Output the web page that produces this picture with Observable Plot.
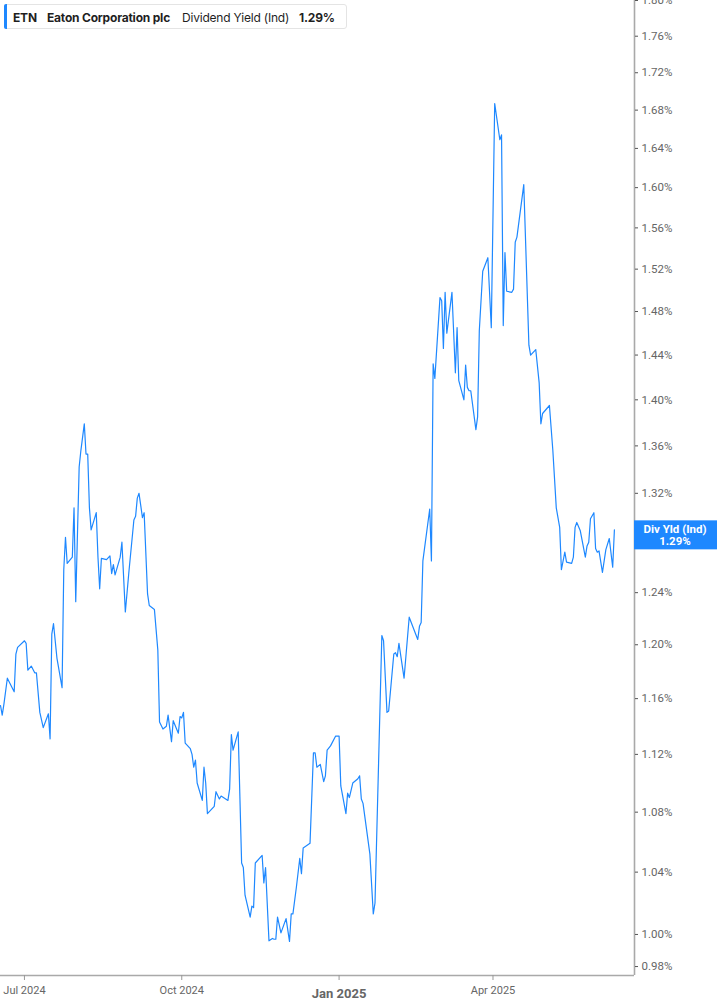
<!DOCTYPE html>
<html>
<head>
<meta charset="utf-8">
<script src="https://cdn.jsdelivr.net/npm/d3@7"></script>
<script src="https://cdn.jsdelivr.net/npm/@observablehq/plot@0.6"></script>
<style>
  body { margin: 0; background: #fff; }
  #wrap { position: relative; width: 717px; height: 1005px; overflow: hidden; background: #fff; }
  #legend { position: absolute; left: 4px; top: 4px; width: 343px; height: 25px; border: 1px solid #e4e4e4; border-radius: 3px; background: #fff; font-family: Inter, Roboto, sans-serif; font-size: 12px; color: #1f1f1f; box-sizing: border-box; }
  #legend .bar { position: absolute; left: -1px; top: -1px; width: 3px; height: 25px; background: #1e88ff; border-radius: 2px 0 0 2px; }
  #legend span { position: absolute; top: 5px; white-space: nowrap; letter-spacing: -0.2px; }
  #legend .b { font-weight: 700; }
</style>
</head>
<body>
<div id="wrap">
  <div id="chart"></div>
  <div id="legend">
    <div class="bar"></div>
    <span class="b" style="left:8px">ETN</span>
    <span class="b" style="left:42px">Eaton Corporation plc</span>
    <span style="left:177px">Dividend Yield (Ind)</span>
    <span class="b" style="left:294px">1.29%</span>
  </div>
</div>
<script>
const dates = [
 "2024-06-17","2024-06-18","2024-06-19","2024-06-21","2024-06-25","2024-06-26","2024-06-27","2024-07-01","2024-07-02","2024-07-03",
 "2024-07-05","2024-07-07","2024-07-08","2024-07-10","2024-07-12","2024-07-15","2024-07-16","2024-07-17","2024-07-18","2024-07-20",
 "2024-07-23","2024-07-24","2024-07-25","2024-07-26","2024-07-29","2024-07-30","2024-07-31","2024-08-02","2024-08-03","2024-08-05",
 "2024-08-06","2024-08-07","2024-08-08","2024-08-09","2024-08-12","2024-08-13","2024-08-14","2024-08-15","2024-08-18","2024-08-20",
 "2024-08-21","2024-08-22","2024-08-23","2024-08-26","2024-08-27","2024-08-29","2024-08-31","2024-09-03","2024-09-04","2024-09-05",
 "2024-09-06","2024-09-07","2024-09-08","2024-09-09","2024-09-11","2024-09-12","2024-09-15","2024-09-17","2024-09-18","2024-09-20",
 "2024-09-22","2024-09-23","2024-09-25","2024-09-26","2024-09-29","2024-09-30","2024-10-01","2024-10-02","2024-10-03","2024-10-06",
 "2024-10-07","2024-10-08","2024-10-09","2024-10-10","2024-10-13","2024-10-14","2024-10-15","2024-10-16","2024-10-20","2024-10-21",
 "2024-10-23","2024-10-24","2024-10-28","2024-10-29","2024-10-30","2024-10-31","2024-11-03","2024-11-05","2024-11-06","2024-11-07",
 "2024-11-10","2024-11-11","2024-11-12","2024-11-13","2024-11-17","2024-11-18","2024-11-19","2024-11-21","2024-11-23","2024-11-24",
 "2024-11-25","2024-11-26","2024-11-28","2024-12-01","2024-12-03","2024-12-04","2024-12-05","2024-12-07","2024-12-09","2024-12-10",
 "2024-12-11","2024-12-15","2024-12-17","2024-12-18","2024-12-19","2024-12-21","2024-12-23","2024-12-24","2024-12-25","2024-12-27",
 "2024-12-30","2025-01-01","2025-01-02","2025-01-05","2025-01-06","2025-01-07","2025-01-09","2025-01-12","2025-01-13","2025-01-14",
 "2025-01-15","2025-01-19","2025-01-21","2025-01-22","2025-01-26","2025-01-27","2025-01-29","2025-01-30","2025-02-02","2025-02-03",
 "2025-02-04","2025-02-05","2025-02-08","2025-02-11","2025-02-16","2025-02-17","2025-02-18","2025-02-19","2025-02-23","2025-02-24",
 "2025-02-25","2025-02-26","2025-03-01","2025-03-02","2025-03-03","2025-03-04","2025-03-05","2025-03-08","2025-03-10","2025-03-11",
 "2025-03-12","2025-03-15","2025-03-16","2025-03-17","2025-03-18","2025-03-19","2025-03-22","2025-03-23","2025-03-24","2025-03-26",
 "2025-03-29","2025-03-31","2025-04-02","2025-04-05","2025-04-06","2025-04-07","2025-04-08","2025-04-09","2025-04-12","2025-04-13",
 "2025-04-14","2025-04-15","2025-04-19","2025-04-22","2025-04-23","2025-04-26","2025-04-28","2025-04-29","2025-04-30","2025-05-04",
 "2025-05-06","2025-05-08","2025-05-10","2025-05-11","2025-05-13","2025-05-14","2025-05-17","2025-05-18","2025-05-19","2025-05-20",
 "2025-05-22","2025-05-25","2025-05-26","2025-05-27","2025-05-28","2025-05-30","2025-05-31","2025-06-01","2025-06-02","2025-06-04",
 "2025-06-06","2025-06-08","2025-06-10","2025-06-11"
];
const yields = [
 1.155,1.148,1.156,1.175,1.165,1.193,1.198,1.203,1.201,1.181,
 1.184,1.179,1.179,1.150,1.139,1.149,1.131,1.208,1.216,1.190,
 1.168,1.258,1.284,1.263,1.268,1.308,1.233,1.342,1.356,1.379,
 1.353,1.353,1.308,1.290,1.304,1.268,1.243,1.267,1.266,1.269,
 1.255,1.262,1.254,1.268,1.280,1.225,1.255,1.298,1.301,1.316,
 1.320,1.310,1.300,1.304,1.239,1.230,1.227,1.196,1.143,1.138,
 1.140,1.148,1.129,1.144,1.135,1.147,1.146,1.150,1.128,1.124,
 1.120,1.111,1.116,1.100,1.088,1.111,1.100,1.079,1.084,1.094,
 1.089,1.091,1.088,1.096,1.134,1.123,1.136,1.046,1.043,1.025,
 1.011,1.018,1.017,1.046,1.051,1.033,1.043,0.996,0.9975,0.997,
 0.997,1.011,1.001,1.010,0.9956,1.013,1.013,1.030,1.049,1.039,
 1.056,1.059,1.121,1.121,1.111,1.113,1.101,1.105,1.123,1.126,
 1.133,1.133,1.098,1.079,1.093,1.090,1.100,1.103,1.105,1.089,
 1.086,1.052,1.013,1.020,1.207,1.203,1.150,1.151,1.193,1.194,
 1.191,1.201,1.175,1.221,1.204,1.214,1.217,1.265,1.307,1.265,
 1.432,1.419,1.493,1.490,1.446,1.498,1.460,1.498,1.424,1.465,
 1.417,1.400,1.431,1.411,1.408,1.408,1.374,1.385,1.4625,1.518,
 1.531,1.465,1.687,1.649,1.654,1.467,1.536,1.499,1.498,1.501,
 1.546,1.551,1.603,1.449,1.440,1.445,1.415,1.379,1.388,1.395,
 1.356,1.308,1.292,1.258,1.272,1.264,1.263,1.268,1.292,1.296,
 1.2895,1.268,1.277,1.280,1.299,1.304,1.275,1.272,1.273,1.256,
 1.274,1.283,1.260,1.290
];
const yTicks = [0.98, 1.00, 1.04, 1.08, 1.12, 1.16, 1.20, 1.24, 1.28, 1.32, 1.36, 1.40, 1.44, 1.48, 1.52, 1.56, 1.60, 1.64, 1.68, 1.72, 1.76, 1.80];
const xTicks = ["2024-07-01", "2024-10-01", "2025-04-01"];
const xTicksBold = ["2025-01-01"];
const xDomain = ["2024-06-17", "2025-06-22T18:00:00Z"];
const yDomain = [0.9745, 1.80];
const lastValue = 1.29;
const badgeLabel = "Div Yld (Ind)";

const data = dates.map((d, i) => ({date: new Date(d), value: yields[i]}));
const xd = xDomain.map(d => new Date(d));

const plot = Plot.plot({
  width: 717,
  height: 1005,
  marginLeft: 0,
  marginRight: 83,
  marginTop: 0,
  marginBottom: 30,
  x: {type: "utc", domain: xd, label: null},
  y: {type: "log", domain: yDomain, label: null},
  style: {fontFamily: "Roboto, sans-serif", fontSize: "11.5px", color: "#666", background: "#fff"},
  marks: [
    Plot.ruleX([xd[1]], {stroke: "#a9a9a9", strokeWidth: 1.6}),
    Plot.ruleY([yDomain[0]], {stroke: "#a9a9a9", strokeWidth: 1.6}),
    Plot.axisY(yTicks, {anchor: "right", label: null, tickSize: 3, tickPadding: 4, tickFormat: d => d.toFixed(2) + "%", stroke: "#555", fill: "#666", fontSize: 11.5}),
    Plot.axisX(xTicks.map(d => new Date(d)), {anchor: "bottom", label: null, tickSize: 5, tickPadding: 6, tickFormat: d3.utcFormat("%b %Y"), stroke: "#999", fill: "#666", fontSize: 11}),
    Plot.axisX(xTicksBold.map(d => new Date(d)), {anchor: "bottom", label: null, tickSize: 5, tickPadding: 8, tickFormat: d3.utcFormat("%b %Y"), stroke: "#999", fill: "#666", fontSize: 13, fontWeight: "bold"}),
    Plot.lineY(data, {x: "date", y: "value", stroke: "#1e88ff", strokeWidth: 1.2})
  ]
});

document.getElementById("chart").appendChild(plot);

// value badge on the right axis
const ys = plot.scale("y");
const yv = ys.apply(lastValue);
const svg = d3.select(plot);
const g = svg.append("g");
g.append("rect").attr("x", 634).attr("y", yv - 9).attr("width", 83).attr("height", 29).attr("fill", "#1e88ff");
g.append("text").attr("x", 675).attr("y", yv + 4).attr("text-anchor", "middle").attr("fill", "#fff")
  .attr("font-family", "Roboto, sans-serif").attr("font-weight", "bold").attr("font-size", 11.5).text(badgeLabel);
g.append("text").attr("x", 675).attr("y", yv + 16).attr("text-anchor", "middle").attr("fill", "#fff")
  .attr("font-family", "Roboto, sans-serif").attr("font-weight", "bold").attr("font-size", 11.5).text(lastValue.toFixed(2) + "%");
</script>
</body>
</html>
